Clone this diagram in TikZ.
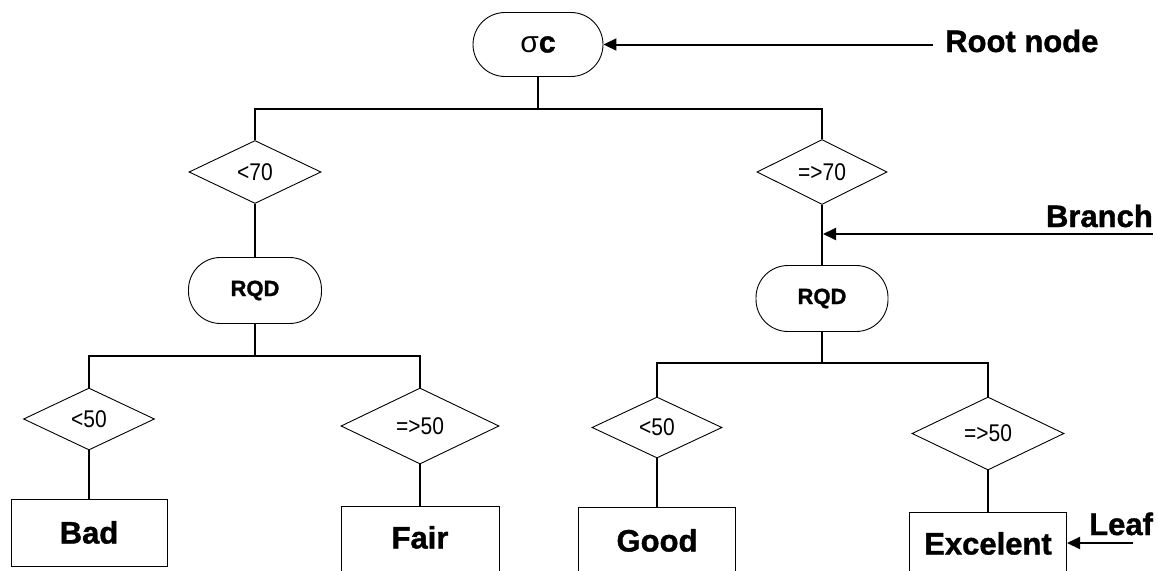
\documentclass[tikz,border=0pt]{standalone}
\usepackage{graphicx}
\usepackage{fontspec}
\setmainfont{Liberation Sans}
\newfontfamily\heavyfont[BoldFeatures={FakeBold=1.2}]{Liberation Sans}
\newcommand\talltext[1]{\scalebox{1}[1.15]{#1}}
\usetikzlibrary{shapes.geometric,arrows.meta}
\begin{document}
\begin{tikzpicture}[x=1pt,y=-1pt,
  attrnode/.style={rectangle, draw, line width=0.9pt, inner sep=0pt,
    minimum width=#1, minimum height=66pt, rounded corners=32pt},
  attrnode/.default=132pt,
  test/.style={diamond, draw, line width=0.9pt, inner sep=0pt,
    font=\fontsize{21}{23}\selectfont},
  leafbox/.style={rectangle, draw, line width=1pt, inner sep=0pt, anchor=north,
    font=\heavyfont\bfseries\fontsize{31}{33}\selectfont},
  wire/.style={line width=2pt},
  pointer/.style={line width=2pt, -{Triangle[length=13pt,width=12pt]}},
  note/.style={font=\heavyfont\bfseries\fontsize{31}{33}\selectfont, inner sep=0pt}
]
\clip (0,0) rectangle (1158,570);
\fill[white] (0,0) rectangle (1158,570);

% attribute (decision) nodes
\node[attrnode=130pt, minimum height=64pt, font=\fontsize{30}{32}\selectfont] (root) at (538,44.5) {σ{\heavyfont\bfseries c}};
\node[attrnode=133pt, font=\heavyfont\bfseries\fontsize{22}{24}\selectfont] (rqdL) at (255,290.5) {RQD};
\node[attrnode=132pt, font=\heavyfont\bfseries\fontsize{22}{24}\selectfont] (rqdR) at (822,298.5) {RQD};

% tests on the branches
\node[test, minimum width=132pt, minimum height=63pt] (ltA) at (255,172) {\talltext{<70}};
\node[test, minimum width=130pt, minimum height=63pt] (geA) at (822,172) {\talltext{=>70}};
\node[test, minimum width=131pt, minimum height=62pt] (ltB) at (89,419) {\talltext{<50}};
\node[test, minimum width=158pt, minimum height=76pt] (geB) at (420,426) {\talltext{=>50}};
\node[test, minimum width=130pt, minimum height=61pt] (ltC) at (657,427.5) {\talltext{<50}};
\node[test, minimum width=152pt, minimum height=73pt] (geC) at (988,433.5) {\talltext{=>50}};

% leaves
\node[leafbox, minimum width=156pt, text height=44pt, text depth=23pt] (bad) at (89,499) {Bad};
\node[leafbox, minimum width=158pt, text height=42pt, text depth=34pt] (fair) at (420,506) {Fair};
\node[leafbox, minimum width=157pt, text height=44pt, text depth=31pt] (good) at (657,507) {Good};
\node[leafbox, minimum width=157pt, text height=42pt, text depth=28pt] (excel) at (988,512) {Excelent};

% branches
\draw[wire] (root.south) -- ++(0,32) -| (ltA.north);
\draw[wire] (root.south) -- ++(0,32) -| (geA.north);
\draw[wire] (ltA.south) -- (rqdL.north);
\draw[wire] (geA.south) -- (rqdR.north);
\draw[wire] (rqdL.south) -- ++(0,32) -| (ltB.north);
\draw[wire] (rqdL.south) -- ++(0,32) -| (geB.north);
\draw[wire] (rqdR.south) -- ++(0,31.5) -| (ltC.north);
\draw[wire] (rqdR.south) -- ++(0,31.5) -| (geC.north);
\draw[wire] (ltB.south) -- (bad.north);
\draw[wire] (geB.south) -- (fair.north);
\draw[wire] (ltC.south) -- (good.north);
\draw[wire] (geC.south) -- (excel.north);

% annotations
\node[note, anchor=base west] (rootNote) at (945,52) {Root node};
\coordinate (rootTail) at (933,44.5);
\draw[pointer] (rootTail) -- (root.east);

\node[note, anchor=base east] (branchNote) at (1153,227) {Branch};
\coordinate (branchTail) at (1153,234);
\draw[pointer] (branchTail) -- ([xshift=1pt]geA.south |- branchTail);

\node[note, anchor=base west] (leafNote) at (1089,535) {Leaf};
\coordinate (leafTail) at (1133,543);
\draw[pointer] (leafTail) -- (excel.east |- leafTail);
\end{tikzpicture}
\end{document}
